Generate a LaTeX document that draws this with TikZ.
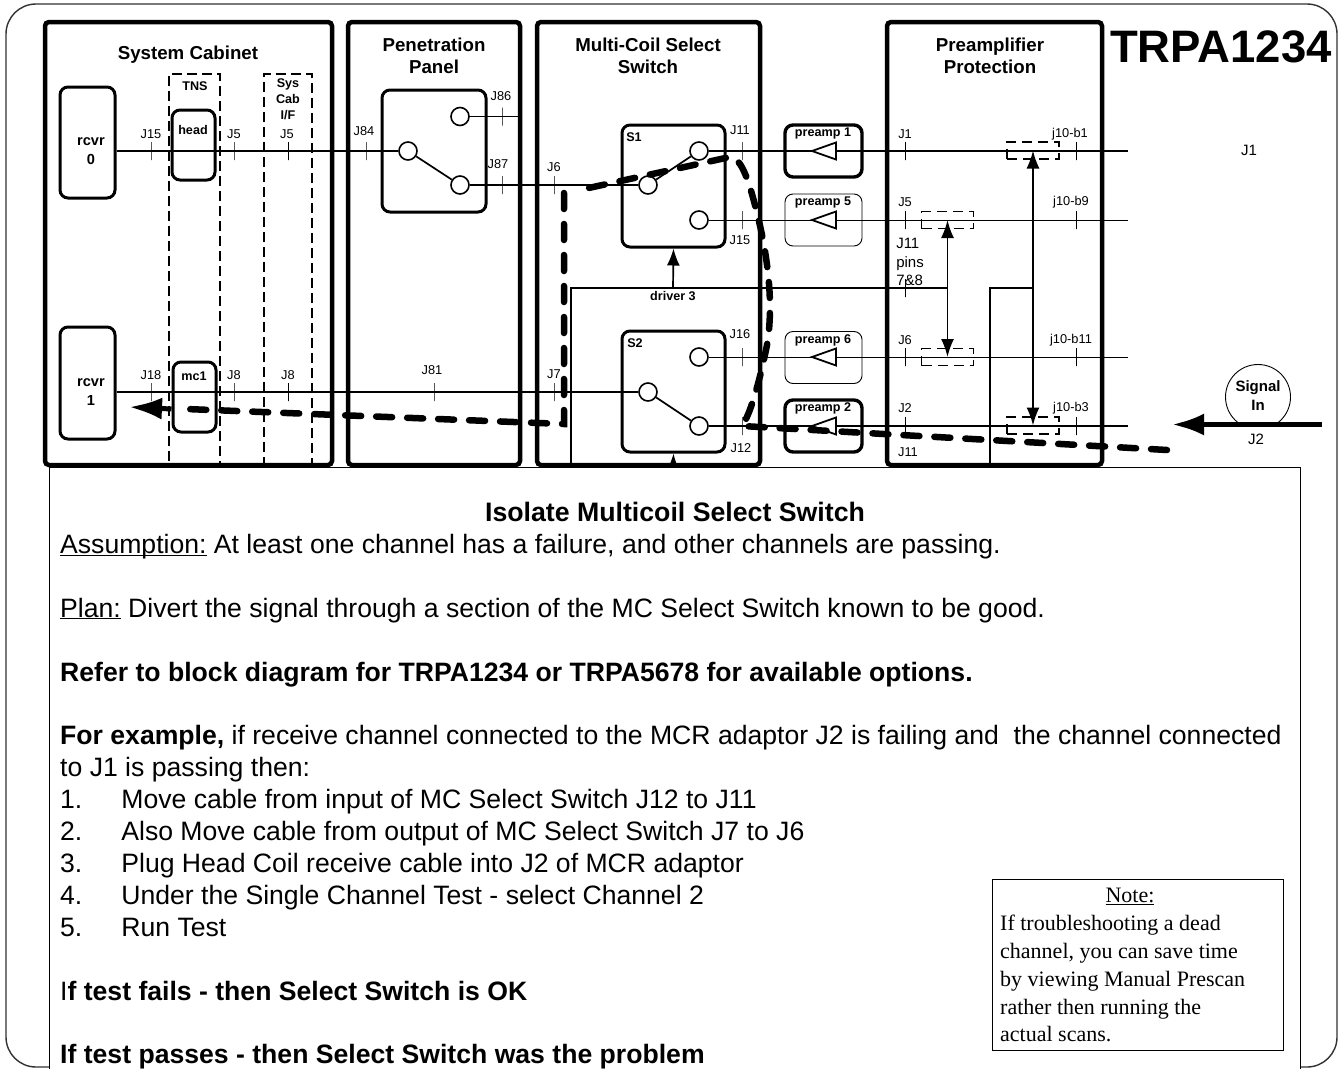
\documentclass[tikz,border=0pt]{standalone}
\usepackage{fontspec}
\setmainfont{Liberation Sans}
\newfontfamily\notefont{Liberation Serif}
\usetikzlibrary{arrows.meta}
\definecolor{framegray}{RGB}{50,50,50}
\tikzset{
    groupbox/.style={draw, line width=4.5pt, rounded corners=4pt, inner sep=0pt, minimum height=443pt},
    modulebox/.style={draw, line width=3pt, rounded corners=8pt, inner sep=0pt},
    preampthick/.style={draw, line width=3.4pt, rounded corners=8pt, inner sep=0pt, minimum width=77pt, minimum height=52pt},
    preampthin/.style={draw, line width=0.9pt, rounded corners=8pt, inner sep=0pt, minimum width=77pt, minimum height=52pt},
    contact/.style={draw, circle, line width=1.6pt, fill=white, inner sep=0pt, minimum size=18pt},
    porttick/.style={draw, line width=0.8pt, inner sep=0pt, minimum width=0pt, minimum height=18pt},
    portlabel/.style={inner sep=0pt, font=\fontsize{12.8}{14}\selectfont},
    grouptitle/.style={inner sep=0pt, align=center, font=\fontsize{18.7}{22.5}\selectfont\bfseries},
    modulelabel/.style={inner sep=0pt, align=center, font=\fontsize{12.6}{16}\selectfont\bfseries},
    rcvrlabel/.style={inner sep=0pt, align=center, font=\fontsize{14.6}{19}\selectfont\bfseries},
    wire/.style={line width=1.7pt},
    thinwire/.style={line width=0.9pt},
    cabledash/.style={line width=1.6pt, dash pattern=on 10pt off 5pt},
    relaybox/.style={draw, line width=1.5pt, dash pattern=on 10pt off 6pt, inner sep=0pt, minimum width=52pt, minimum height=17pt},
    relayline/.style={line width=1.8pt, {Latex[length=18pt,width=13pt]}-{Latex[length=18pt,width=13pt]}},
    driveline/.style={line width=1.7pt},
    signalpath/.style={line width=6.5pt, line cap=round, dash pattern=on 16pt off 15pt},
    signalarrow/.style={line width=5pt, -{Latex[length=32pt,width=22pt]}},
}

\begin{document}
\begin{tikzpicture}[x=1pt,y=-1pt]
    \useasboundingbox (0,0) rectangle (1341,1068);
    \fill[white] (0,0) rectangle (1341,1068);
    \draw[line width=1.4pt, framegray, rounded corners=30pt] (6,4) rectangle (1337,1067);

    % group boxes
    \node[groupbox, minimum width=287pt] (cabinet) at (188.5,243.5) {};
    \node[groupbox, minimum width=172pt] (penetration) at (434,243.5) {};
    \node[groupbox, minimum width=223pt] (multicoil) at (648.5,243.5) {};
    \node[groupbox, minimum width=215pt] (protection) at (994.5,243.5) {};
    \node[grouptitle] (cabinettitle) at (188,55) {System Cabinet};
    \node[grouptitle] (penetrationtitle) at (434,56) {Penetration\\Panel};
    \node[grouptitle] (multicoiltitle) at (648,56) {Multi-Coil Select\\Switch};
    \node[grouptitle] (protectiontitle) at (990,56) {Preamplifier\\Protection};
    \node[inner sep=0pt, font=\fontsize{45.5}{50}\selectfont\bfseries] (trpa) at (1221,47) {TRPA1234};

    % cabinet
    \node[draw, cabledash, inner sep=0pt, minimum width=51pt, minimum height=391pt] (tns) at (194.5,269.5) {};
    \node[draw, cabledash, inner sep=0pt, minimum width=48pt, minimum height=391pt] (syscab) at (288,269.5) {};
    \node[modulelabel] (tnslabel) at (195,86) {TNS};
    \node[modulelabel] (syscablabel) at (288,99) {Sys\\Cab\\I/F};
    \node[modulebox, minimum width=55pt, minimum height=111pt] (rcvrzero) at (87.5,142.5) {};
    \node[modulebox, minimum width=55pt, minimum height=112pt] (rcvrone) at (87.5,383) {};
    \node[rcvrlabel] (rcvrzerolabel) at (91,151) {rcvr\\0};
    \node[rcvrlabel] (rcvronelabel) at (91,392) {rcvr\\1};
    \node[modulebox, minimum width=43pt, minimum height=70pt] (headcoil) at (193.5,145) {};
    \node[modulebox, minimum width=43pt, minimum height=70pt] (mcone) at (194.5,397) {};
    \node[modulelabel] (headlabel) at (193,130) {head};
    \node[modulelabel] (mconelabel) at (194,376) {mc1};

    % switches
    \node[modulebox, minimum width=104pt, minimum height=122pt] (panelswitch) at (434,151) {};
    \node[modulebox, minimum width=103pt, minimum height=122pt] (sone) at (673.5,186) {};
    \node[modulebox, minimum width=103pt, minimum height=121pt] (stwo) at (673.5,391.5) {};
    \node[modulelabel] (sonelabel) at (634,137) {S1};
    \node[modulelabel] (stwolabel) at (635,343) {S2};
    \node[contact] (panelcom) at (408,151) {};
    \node[contact] (panelup) at (460,116.5) {};
    \node[contact] (paneldown) at (460,185) {};
    \node[contact] (soneup) at (699,151) {};
    \node[contact] (sonecom) at (648,185) {};
    \node[contact] (sonedown) at (699,220) {};
    \node[contact] (stwoup) at (699,357) {};
    \node[contact] (stwocom) at (648,392) {};
    \node[contact] (stwodown) at (699,426) {};

    % preamps
    \node[preampthick] (preampone) at (823.5,151) {};
    \node[preampthin, minimum height=52pt] (preampfive) at (823.5,220) {};
    \node[preampthin] (preampsix) at (823.5,357.5) {};
    \node[preampthick] (preamptwo) at (823.5,426) {};
    \node[modulelabel] (preamponelabel) at (823,133) {preamp 1};
    \node[modulelabel] (preampfivelabel) at (823,202) {preamp 5};
    \node[modulelabel] (preampsixlabel) at (823,340) {preamp 6};
    \node[modulelabel] (preamptwolabel) at (823,408) {preamp 2};

    % wire ends
    \coordinate (endone) at (1128,151);
    \coordinate (endfive) at (1128,220);
    \coordinate (endsix) at (1128,357);
    \coordinate (endtwo) at (1128,426);
    \coordinate (panelupend) at (519,116.5);

    % wires
    \draw[wire] (rcvrzero.east |- panelcom) -- (panelcom);
    \draw[wire] (panelcom) -- (paneldown);
    \draw[wire] (panelup) -- (panelupend);
    \draw[wire] (paneldown) -- (sonecom);
    \draw[wire] (sonecom) -- (soneup);
    \draw[wire] (soneup) -- (endone);
    \draw[thinwire] (sonedown) -- (endfive);
    \draw[thinwire] (stwoup) -- (endsix);
    \draw[wire] (stwodown) -- (endtwo);
    \draw[wire] (rcvrone.east |- stwocom) -- (stwocom);
    \draw[wire] (stwocom) -- (stwodown);

    % preamp triangles
    \draw[line width=1.8pt, fill=white] (812,151) -- (836,142.5) -- (836,159.5) -- cycle;
    \draw[line width=1.8pt, fill=white] (812,220) -- (836,211.5) -- (836,228.5) -- cycle;
    \draw[line width=1.8pt, fill=white] (812,357) -- (836,348.5) -- (836,365.5) -- cycle;
    \draw[line width=1.8pt, fill=white] (812,426) -- (836,417.5) -- (836,434.5) -- cycle;

    % port ticks
    \node[porttick] (tjfifteen) at (151,151) {}; \node[portlabel] (ljfifteen) at (151,134) {J15};
    \node[porttick] (tjfive) at (234,151) {}; \node[portlabel] (ljfive) at (234,134) {J5};
    \node[porttick] (tjfivecab) at (288.5,151) {}; \node[portlabel] (ljfivecab) at (287,134) {J5};
    \node[porttick] (tjeightyfour) at (366,151) {}; \node[portlabel] (ljeightyfour) at (364,131) {J84};
    \node[porttick] (tjeightysix) at (502,116.5) {}; \node[portlabel] (ljeightysix) at (501,96) {J86};
    \node[porttick] (tjeightyseven) at (502,185) {}; \node[portlabel] (ljeightyseven) at (498,164) {J87};
    \node[porttick] (tjsix) at (554,185) {}; \node[portlabel] (ljsix) at (554,167) {J6};
    \node[porttick] (tjeighteen) at (151,392) {}; \node[portlabel] (ljeighteen) at (151,375) {J18};
    \node[porttick] (tjeight) at (234,392) {}; \node[portlabel] (ljeight) at (234,375) {J8};
    \node[porttick] (tjeightcab) at (288.5,392) {}; \node[portlabel] (ljeightcab) at (288,375) {J8};
    \node[porttick] (tjeightyone) at (434,392) {}; \node[portlabel] (ljeightyone) at (432,370) {J81};
    \node[porttick] (tjseven) at (554,392) {}; \node[portlabel] (ljseven) at (554,374) {J7};
    \node[porttick] (tjeleven) at (742,151) {}; \node[portlabel] (ljeleven) at (740,130) {J11};
    \node[porttick] (tjfifteens) at (742,220) {}; \node[portlabel] (ljfifteens) at (740,240) {J15};
    \node[porttick] (tjsixteen) at (742,357) {}; \node[portlabel] (ljsixteen) at (740,334) {J16};
    \node[porttick] (tjtwelve) at (742,426) {}; \node[portlabel] (ljtwelve) at (741,448) {J12};
    \node[porttick] (tjone) at (905,151) {}; \node[portlabel] (ljone) at (905,134) {J1};
    \node[porttick] (tjfivep) at (905,220) {}; \node[portlabel] (ljfivep) at (905,202) {J5};
    \node[porttick] (tjsixp) at (905,357) {}; \node[portlabel] (ljsixp) at (905,340) {J6};
    \node[porttick] (tjtwo) at (905,426) {}; \node[portlabel] (ljtwo) at (905,408) {J2};
    \node[porttick] (tpins) at (905,288) {};
    \node[portlabel] (ljelevenp) at (908,452) {J11};
    \node[porttick] (tbone) at (1076,151) {}; \node[portlabel] (lbone) at (1070,134) {j10-b1};
    \node[porttick] (tbnine) at (1076,220) {}; \node[portlabel] (lbnine) at (1071,202) {j10-b9};
    \node[porttick] (tbeleven) at (1076,357) {}; \node[portlabel] (lbeleven) at (1071,340) {j10-b11};
    \node[porttick] (tbthree) at (1076,426) {}; \node[portlabel] (lbthree) at (1071,408) {j10-b3};
    \node[inner sep=0pt, align=left, font=\fontsize{15}{18.5}\selectfont] (pinslabel) at (910,262) {J11\\pins\\7\&8};

    % relays
    \node[relaybox] (relayone) at (1033,150.5) {};
    \node[relaybox] (relayfive) at (947.5,220) {};
    \node[relaybox] (relaysix) at (947.5,357) {};
    \node[relaybox] (relaytwo) at (1033,425.5) {};
    \draw[relayline] (relayfive.center) -- (relaysix.center);
    \draw[relayline] (relayone.center) -- (relaytwo.center);

    % driver lines
    \coordinate (driveleft) at (571,288);
    \coordinate (driveleftend) at (571,465);
    \coordinate (drivejoin) at (948,288);
    \coordinate (driveright) at (990,288);
    \coordinate (driverightend) at (990,465);
    \coordinate (driverighttop) at (1033,288);
    \coordinate (driveup) at (673,288);
    \coordinate (drivedown) at (673,475);
    \draw[driveline] (driveleftend) -- (driveleft) -- (drivejoin);
    \draw[driveline] (driverightend) -- (driveright) -- (driverighttop);
    \draw[driveline, -{Latex[length=17pt,width=13pt]}] (driveup) -- (sone.south);
    \draw[driveline, -{Latex[length=17pt,width=13pt]}] (drivedown) -- (stwo.south);
    \node[modulelabel] (driverlabel) at (673,296.5) {driver 3};

    % text panel
    \node[draw, line width=0.9pt, fill=white, inner sep=0pt, minimum width=1251pt, minimum height=610pt, anchor=north west] (panel) at (49,467) {};
    \node[inner sep=0pt, font=\fontsize{26.7}{30}\selectfont\bfseries] (paneltitle) at (675,512) {Isolate Multicoil Select Switch};
    \node[inner sep=0pt, anchor=north west, align=left, font=\fontsize{26.6}{31.9}\selectfont] (paneltext) at (60,534) {%
        \underline{\smash{Assumption:}} At least one channel has a failure, and other channels are passing.\\
        \mbox{}\\
        \underline{\smash{Plan:}} Divert the signal through a section of the MC Select Switch known to be good.\\
        \mbox{}\\
        \textbf{Refer to block diagram for TRPA1234 or TRPA5678 for available options.}\\
        \mbox{}\\
        \textbf{For example,} if receive channel connected to the MCR adaptor J2 is failing and\ \ the channel connected\\
        to J1 is passing then:\\
        1.\hspace{39pt}Move cable from input of MC Select Switch J12 to J11\\
        2.\hspace{39pt}Also Move cable from output of MC Select Switch J7 to J6\\
        3.\hspace{39pt}Plug Head Coil receive cable into J2 of MCR adaptor\\
        4.\hspace{39pt}Under the Single Channel Test - select Channel 2\\
        5.\hspace{39pt}Run Test\\
        \mbox{}\\
        I\textbf{f test fails - then Select Switch is OK}\\
        \mbox{}\\
        \textbf{If test passes - then Select Switch was the problem}};
    \node[draw, line width=0.9pt, fill=white, inner sep=0pt, minimum width=291pt, minimum height=171pt, anchor=north west] (notebox) at (992,879) {};
    \node[inner sep=0pt, font=\fontsize{22}{27.8}\selectfont\notefont] (notetitle) at (1130,896) {\underline{Note:}};
    \node[inner sep=0pt, anchor=north west, align=left, font=\fontsize{22}{27.8}\selectfont\notefont] (notetext) at (1000,915) {If troubleshooting a dead\\channel, you can save time\\by viewing Manual Prescan\\rather then running the\\actual scans.};

    % signal in
    \begin{scope}
        \clip (1220,360) rectangle (1300,425);
        \node[draw, circle, line width=0.9pt, inner sep=0pt, minimum size=65pt] (signalcircle) at (1258,397) {};
    \end{scope}
    \node[rcvrlabel, font=\fontsize{15}{19}\selectfont\bfseries] (signallabel) at (1258,396) {Signal\\In};
    \coordinate (signalstart) at (1322,424.5);
    \coordinate (signaltip) at (1172,424.5);
    \draw[signalarrow] (signalstart) -- (signaltip);
    \node[inner sep=0pt, font=\fontsize{15}{18}\selectfont] (signalport) at (1256,439) {J2};
    \node[inner sep=0pt, font=\fontsize{15}{18}\selectfont] (farjone) at (1249,150) {J1};

    % signal route
    \coordinate (routestart) at (1167,450);
    \coordinate (routebend) at (730,157);
    \coordinate (routeleft) at (575,191);
    \coordinate (routedown) at (564,193);
    \coordinate (routecorner) at (564,424);
    \coordinate (routeend) at (186,409);
    \coordinate (routetip) at (129,407);
    \draw[signalpath] (routestart) -- (tjtwelve.center) .. controls (752,412) and (762,370) .. (767,345) .. controls (773,310) and (770,265) .. (757,213) .. controls (750,185) and (742,157) .. (routebend) -- (routeleft);
    \draw[signalpath] (routedown) -- (routecorner) -- (routeend);
    \draw[line width=5pt, -{Latex[length=33pt,width=22pt]}] (mcone.west |- routeend) -- (routetip);
\end{tikzpicture}
\end{document}
